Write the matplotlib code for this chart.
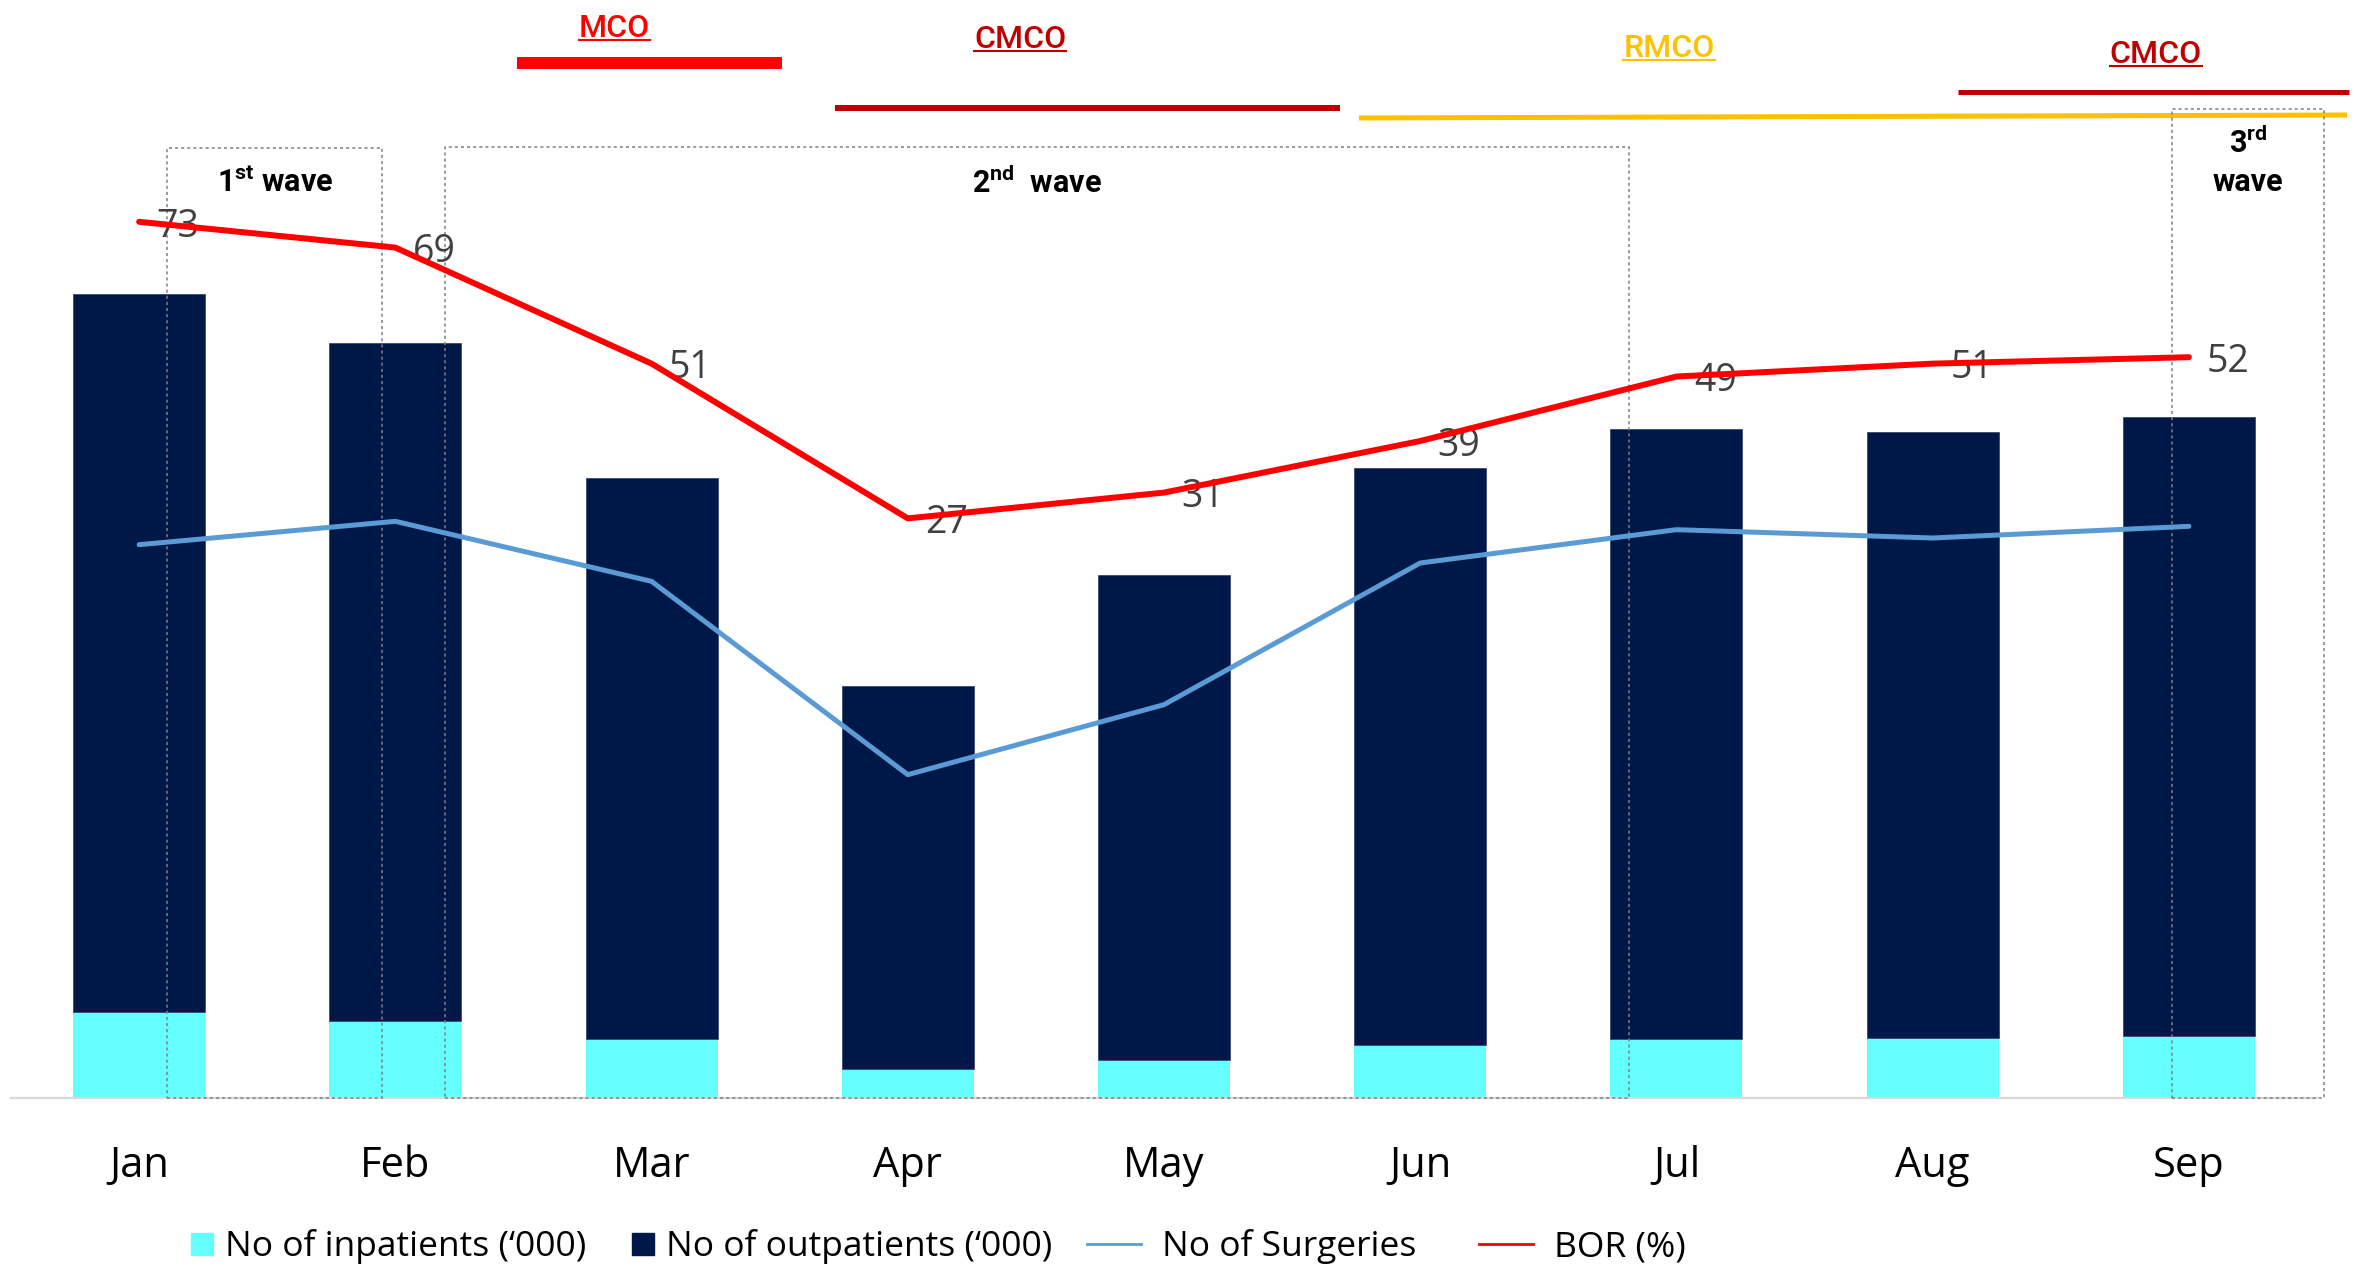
import numpy as np
import matplotlib.pyplot as plt
from matplotlib import transforms
from matplotlib.lines import Line2D
from matplotlib.patches import Rectangle

plt.rcParams['font.family'] = ['Open Sans', 'DejaVu Sans']

# datos (barras en miles, cirugias en unidades, BOR en %)
months = ['Jan', 'Feb', 'Mar', 'Apr', 'May', 'Jun', 'Jul', 'Aug', 'Sep']
inpatients = [5.7, 5.1, 3.9, 1.9, 2.5, 3.5, 3.9, 4.0, 4.1]
outpatients = [47.6, 45.0, 37.2, 25.4, 32.2, 38.3, 40.5, 40.2, 41.1]
surgeries = [3320, 3460, 3100, 1940, 2360, 3210, 3410, 3360, 3430]
bor = [73, 69, 51, 27, 31, 39, 49, 51, 52]

legend_labels = ['No of inpatients (\u2018000)', 'No of outpatients (\u2018000)',
                 'No of Surgeries', 'BOR (%)']

# periodos de restriccion (en posiciones de mes) y olas
orders = ['MCO', 'CMCO', 'RMCO', 'CMCO']
order_colors = ['#FF0000', '#C00000', '#FFC000', '#C00000']
order_span = [(1.475, 2.509), (2.716, 4.687), (4.761, 8.617), (7.099, 8.624)]
waves = [(0.109, 0.948, 148), (1.194, 5.815, 147), (7.933, 8.527, 109)]

W, H = 2364, 1268
fig = plt.figure(figsize=(W / 100, H / 100), dpi=100)
ax = fig.add_axes([11 / W, 1 - 1098 / H, 2306 / W, 1098 / H])
x = np.arange(len(months))

cyan, navy = '#66FFFF', '#001848'
ax.bar(x, inpatients, width=0.515, color=cyan, zorder=2)
ax.bar(x, outpatients, width=0.515, bottom=inpatients, color=navy,
       edgecolor='#3a4a6e', linewidth=0.6, zorder=2)
ax.set_xlim(-0.5, 8.5)
ax.set_ylim(0, 1098 / 15.077)
ax.set_xticks(x)
ax.set_xticklabels(months, fontsize=30)
ax.tick_params(axis='x', length=0, pad=34)
ax.set_yticks([])
for s in ['top', 'left', 'right']:
    ax.spines[s].set_visible(False)
ax.spines['bottom'].set_color('#d9d9d9')
ax.spines['bottom'].set_linewidth(1.6)

# cirugias en su propio eje
ax_s = ax.twinx()
ax_s.plot(x, surgeries, color='#5B9BD5', lw=3.6, solid_capstyle='round', zorder=3)
ax_s.set_ylim(0, 1098 * 6)
ax_s.axis('off')

# BOR en otro eje
ax_b = ax.twinx()
ax_b.plot(x, bor, color='#FF0000', lw=4.3, solid_capstyle='round', zorder=4)
ax_b.set_ylim(-62.9, 107.4)
ax_b.axis('off')
for xi, v in zip(x, bor):
    ax_b.annotate(str(v), (xi, v), xytext=(28, -3.5), textcoords='offset points',
                  ha='center', va='center', fontsize=27, color='#404040',
                  clip_on=False)

tr = transforms.blended_transform_factory(ax.transData, fig.transFigure)
fy = lambda p: 1 - p / H

# cajas punteadas de las olas
for x0, x1, top in waves:
    r = Rectangle((x0, fy(1098)), x1 - x0, (1098 - top) / H, transform=tr,
                  fill=False, edgecolor='#808080', lw=1.1, ls=(0, (2, 2)),
                  clip_on=False, zorder=5)
    ax.add_patch(r)

wave_font = dict(family=['Roboto', 'DejaVu Sans'], weight='bold', color='black',
                 ha='center', va='center', transform=tr)
plt.rcParams['mathtext.fontset'] = 'custom'
plt.rcParams['mathtext.rm'] = 'Roboto'
plt.rcParams['mathtext.bf'] = 'Roboto:bold'
ax.text(0.531, fy(183), r'1$^{\mathbf{st}}$ wave', fontsize=22, **wave_font)
ax.text(3.504, fy(183), r'2$^{\mathbf{nd}}$  wave', fontsize=22, **wave_font)
ax.text(8.230, fy(143), r'3$^{\mathbf{rd}}$', fontsize=22, **wave_font)
ax.text(8.230, fy(182), 'wave', fontsize=22, **wave_font)

# lineas de MCO / CMCO / RMCO
line_y = [(63, 63), (108, 108), (118, 115), (92, 92)]
line_w = [8.6, 4.3, 3.6, 3.6]
text_pos = [(1.854, 37), (3.438, 48), (5.971, 57), (7.871, 63)]
texts = []
for name, col, (s0, s1), (y0, y1), lw, (tx, ty) in zip(
        orders, order_colors, order_span, line_y, line_w, text_pos):
    ax.add_line(Line2D([s0, s1], [fy(y0), fy(y1)], transform=tr, color=col,
                       lw=lw, clip_on=False, solid_capstyle='butt'))
    t = ax.text(tx, fy(ty), name, transform=tr, ha='center', va='baseline',
                fontsize=23, color=col, family=['Roboto', 'DejaVu Sans'],
                weight='medium')
    texts.append((t, ty, col))

# subrayado
fig.canvas.draw()
rend = fig.canvas.get_renderer()
for t, ty, col in texts:
    bb = t.get_window_extent(rend)
    fig.add_artist(Line2D([bb.x0 / W, bb.x1 / W], [fy(ty + 2.5)] * 2,
                          transform=fig.transFigure, color=col, lw=1.5))

# leyenda: cuadrados y lineas por separado para ajustar el ancho de los simbolos
sq_handles = [Line2D([], [], ls='none', marker='s', ms=16, mfc=cyan, mec=cyan),
              Line2D([], [], ls='none', marker='s', ms=16, mfc=navy, mec=navy)]
ln_handles = [Line2D([], [], color='#5B9BD5', lw=2),
              Line2D([], [], color='#FF0000', lw=2)]
leg1 = fig.legend(sq_handles, legend_labels[:2], ncol=2, loc='center left',
                  bbox_to_anchor=(190 / W, fy(1247)), frameon=False, fontsize=25.5,
                  handlelength=0.7, handletextpad=0.3, columnspacing=1.25,
                  borderpad=0, borderaxespad=0)
leg2 = fig.legend(ln_handles, legend_labels[2:], ncol=2, loc='center left',
                  bbox_to_anchor=(1087 / W, fy(1247)), frameon=False, fontsize=25.5,
                  handlelength=1.53, handletextpad=0.6, columnspacing=1.75,
                  borderpad=0, borderaxespad=0)

fig.savefig('out.png', dpi=100)
